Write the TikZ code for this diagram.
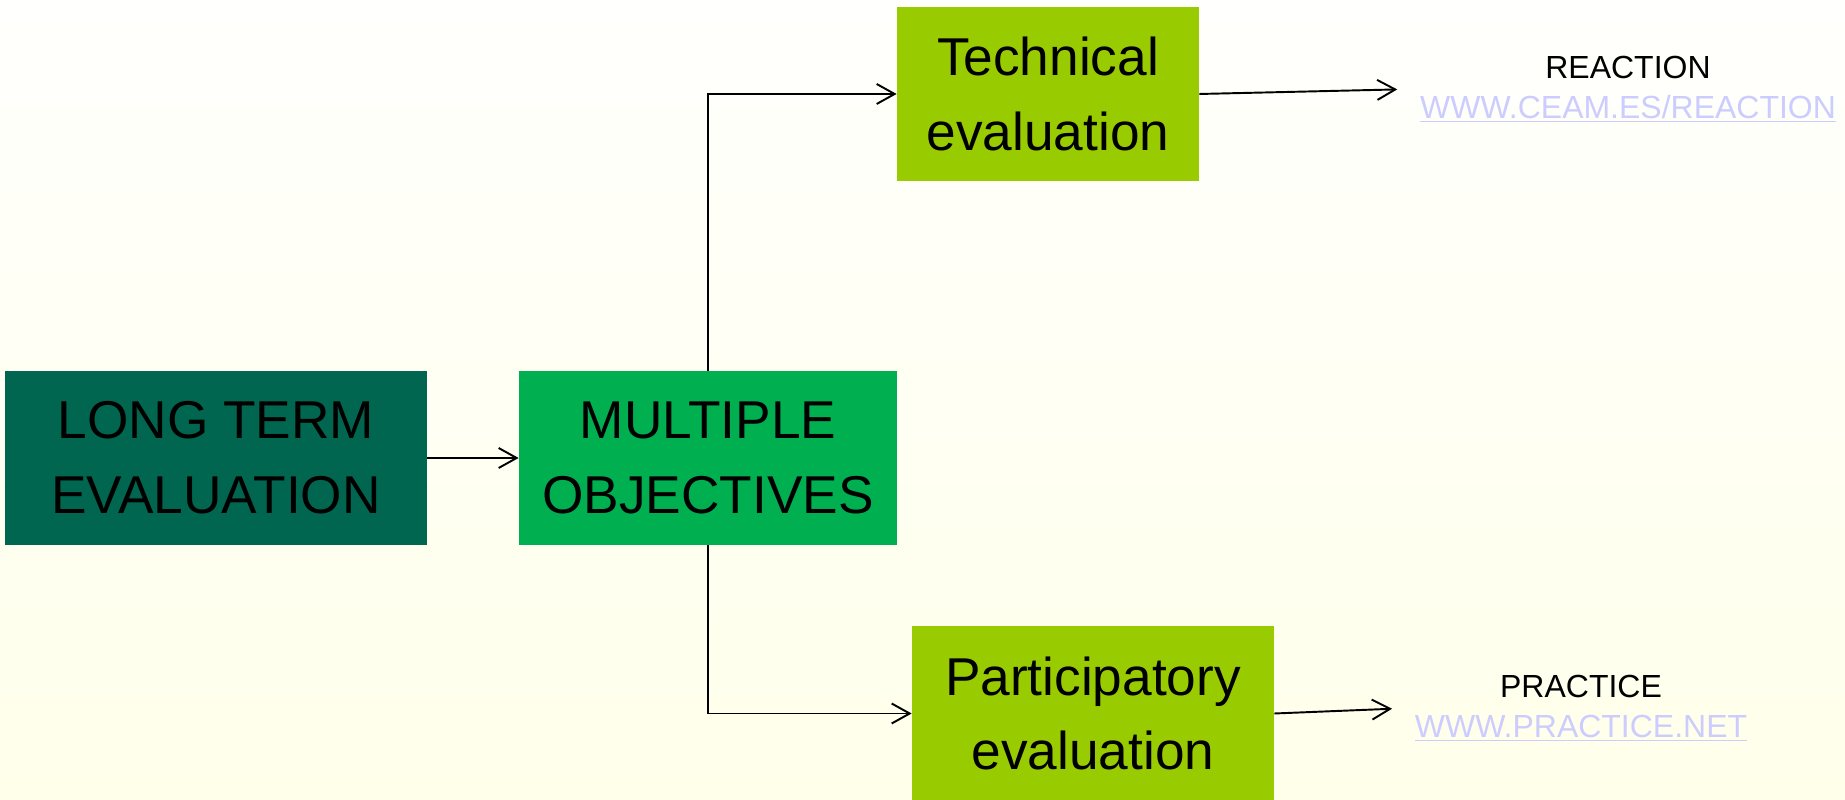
\documentclass[tikz,border=0pt]{standalone}
\usepackage{fontspec}
\setmainfont{Liberation Sans}
\usetikzlibrary{arrows.meta}
\definecolor{deepgreen}{HTML}{006650}
\definecolor{midgreen}{HTML}{00B050}
\definecolor{limegreen}{HTML}{99CC00}
\definecolor{linkblue}{HTML}{CCCCFF}
\definecolor{paletop}{HTML}{FFFFFD}
\definecolor{palebottom}{HTML}{FFFFEA}
\begin{document}
\begin{tikzpicture}[
    box/.style={minimum height=3.48cm, inner sep=0pt, align=center,
      font=\fontsize{30.3}{42.5}\selectfont},
    site/.style={align=center, inner sep=2pt, font=\fontsize{18.2}{23}\selectfont},
    arr/.style={line width=1.1pt, -{Straight Barb[length=0.36cm,width=0.4cm]}}]
        % background
        \shade[top color=paletop, bottom color=palebottom] (0,0) rectangle (36.9,16);
        \useasboundingbox (0,0) rectangle (36.9,16);

        \node[box, fill=deepgreen, minimum width=8.44cm] (longterm) at (4.32,6.84) {LONG TERM\\EVALUATION};
        \node[box, fill=midgreen, minimum width=7.56cm] (objectives) at (14.16,6.84) {MULTIPLE\\OBJECTIVES};
        \node[box, fill=limegreen, minimum width=6.04cm] (technical) at (20.96,14.12) {Technical\\evaluation};
        \node[box, fill=limegreen, minimum width=7.24cm] (participatory) at (21.86,1.73) {Participatory\\evaluation};

        \node[site] (reaction) at (32.56,14.22) {REACTION\\\textcolor{linkblue}{\underline{WWW.CEAM.ES/REACTION}}};
        \node[site] (practice) at (31.62,1.84) {PRACTICE\\\textcolor{linkblue}{\underline{WWW.PRACTICE.NET}}};

        \draw[arr] (longterm.east) -- (objectives.west);
        \draw[arr] (objectives.north) |- (technical.west);
        \draw[arr] (objectives.south) |- (participatory.west);
        \draw[arr, shorten >=0.38cm] (technical.east) -- (reaction.west);
        \draw[arr, shorten >=0.38cm] (participatory.east) -- (practice.west);
\end{tikzpicture}
\end{document}
